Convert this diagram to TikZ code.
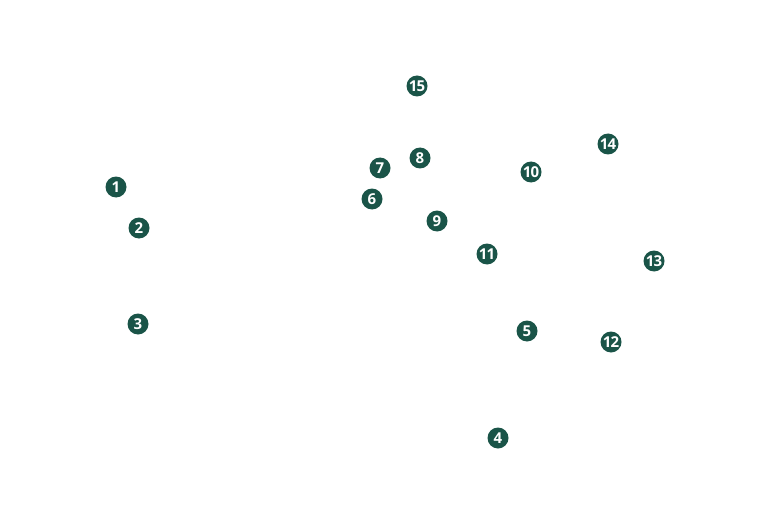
\documentclass[tikz,border=0pt]{standalone}
\usepackage{fontspec}
\setmainfont{Open Sans}[LetterSpace=-6]
\usepackage{tikz}
\usetikzlibrary{positioning}
\definecolor{markgreen}{RGB}{26,84,72}

\begin{document}
\begin{tikzpicture}[x=1pt, y=-1pt,
    marker/.style={circle, fill=markgreen, text=white, inner sep=0pt, minimum size=21pt,
      font=\fontsize{15}{15}\selectfont\bfseries}]
    \useasboundingbox (0,0) rectangle (770,513);

    % Data
    \foreach \i/\x/\y in {1/116/187, 2/139/228, 3/138/324, 4/498/438, 5/527/331, 6/372/199, 7/380/168, 8/420/158, 9/437/221, 10/531/172, 11/487/254, 12/611/342, 13/654/261, 14/608/144, 15/417/86} {
      % Draw numbered markers
      \node[marker] (n\i) at (\x,\y) {\i};
    }

  \end{tikzpicture}
\end{document}
